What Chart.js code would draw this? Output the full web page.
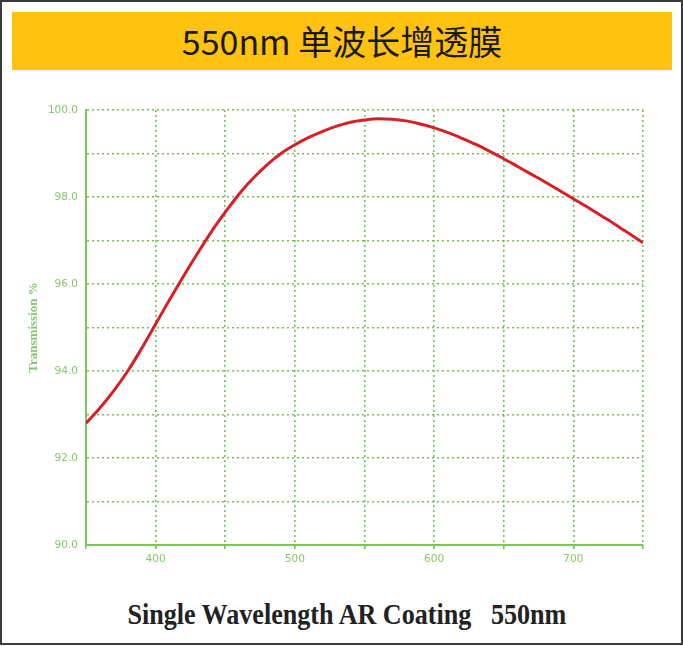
<!DOCTYPE html>
<html>
<head>
  <meta charset="utf-8">
  <script src="https://cdn.jsdelivr.net/npm/chart.js"></script>
  <style>
    html, body { margin: 0; padding: 0; background: #fff; }
    #frame {
      position: absolute; left: 0; top: 0;
      width: 679px; height: 641px;
      border: 2px solid #3a3a3a;
      background: #fff;
    }
    #banner {
      position: absolute; left: 12px; top: 12px;
      width: 660px; height: 58px;
      background: #ffc20e;
      font-family: "Noto Sans CJK SC", "Noto Sans", sans-serif;
      font-size: 34px; color: #1a1a1a;
      text-align: center; line-height: 58px;
    }
    #chartBox {
      position: absolute; left: 0; top: 90px;
      width: 683px; height: 500px;
    }
    #caption {
      position: absolute; left: 5px; top: 598px; width: 683px;
      text-align: center; line-height: 32px;
      font-family: "Liberation Serif", "DejaVu Serif", serif;
      font-weight: bold; font-size: 29px; color: #222;
    }
    #caption span { display: inline-block; transform: scaleX(0.9); }
  </style>
</head>
<body>
  <div id="frame"></div>
  <div id="banner">550nm 单波长增透膜</div>
  <div id="chartBox"><canvas id="lineChart" width="683" height="500"></canvas></div>
  <div id="caption"><span>Single Wavelength AR Coating &nbsp; 550nm</span></div>
  <script>
    // wavelength (nm) and transmission (%)
    const wavelengths = [350, 360, 370, 380, 390, 400, 410, 420, 430, 440, 450,
                         460, 470, 480, 490, 500, 510, 520, 530, 540, 550,
                         560, 570, 580, 590, 600, 610, 620, 630, 640, 650,
                         660, 670, 680, 690, 700, 710, 720, 730, 740, 750];
    const transmission = [92.80, 93.15, 93.55, 94.00, 94.52, 95.08, 95.64, 96.18, 96.70, 97.20, 97.65,
                          98.07, 98.43, 98.74, 99.00, 99.20, 99.37, 99.51, 99.63, 99.72, 99.77,
                          99.80, 99.79, 99.75, 99.68, 99.59, 99.48, 99.35, 99.21, 99.05, 98.88,
                          98.70, 98.52, 98.34, 98.15, 97.96, 97.77, 97.57, 97.37, 97.16, 96.95];
    const xLabels = [400, 500, 600, 700];
    const yLabels = [90, 92, 94, 96, 98, 100];

    const green = 'rgb(128, 196, 92)';
    const dotGreen = 'rgba(110, 190, 70, 0.95)';
    const labelGreen = 'rgb(135, 198, 105)';

    const points = wavelengths.map((w, i) => ({ x: w, y: transmission[i] }));

    const ctx = document.getElementById('lineChart').getContext('2d');
    new Chart(ctx, {
      type: 'line',
      data: {
        datasets: [{
          label: 'Transmission',
          data: points,
          borderColor: 'rgb(214, 32, 40)',
          borderWidth: 3,
          pointRadius: 0,
          cubicInterpolationMode: 'monotone',
          fill: false
        }]
      },
      options: {
        responsive: false,
        animation: false,
        layout: { padding: { left: 0, right: 40, top: 20, bottom: 0 } },
        plugins: { legend: { display: false }, tooltip: { enabled: false } },
        scales: {
          x: {
            type: 'linear',
            min: 350, max: 750,
            afterFit: s => { s.height = 45; },
            ticks: {
              stepSize: 50,
              maxRotation: 0,
              autoSkip: false,
              padding: 4,
              color: labelGreen,
              font: { family: 'DejaVu Sans', size: 10.5 },
              callback: v => xLabels.includes(v) ? String(v) : ''
            },
            grid: { color: dotGreen, lineWidth: 1.6, tickLength: 4, drawTicks: true },
            border: { display: true, color: green, width: 2, dash: [2, 3] }
          },
          y: {
            min: 90, max: 100,
            afterFit: s => { s.width = 86; },
            ticks: {
              stepSize: 1,
              autoSkip: false,
              padding: 8,
              color: labelGreen,
              font: { family: 'DejaVu Sans', size: 10.5 },
              callback: v => yLabels.includes(v) ? v.toFixed(1) : ''
            },
            grid: { color: dotGreen, lineWidth: 1.6, drawTicks: false },
            border: { display: true, color: green, width: 2, dash: [2, 3] },
            title: {
              display: true,
              text: 'Transmission %',
              color: labelGreen,
              font: { family: 'Liberation Serif', size: 13, weight: 'bold' },
              padding: { top: 26, bottom: 0 }
            }
          }
        }
      }
    });
  </script>
</body>
</html>
